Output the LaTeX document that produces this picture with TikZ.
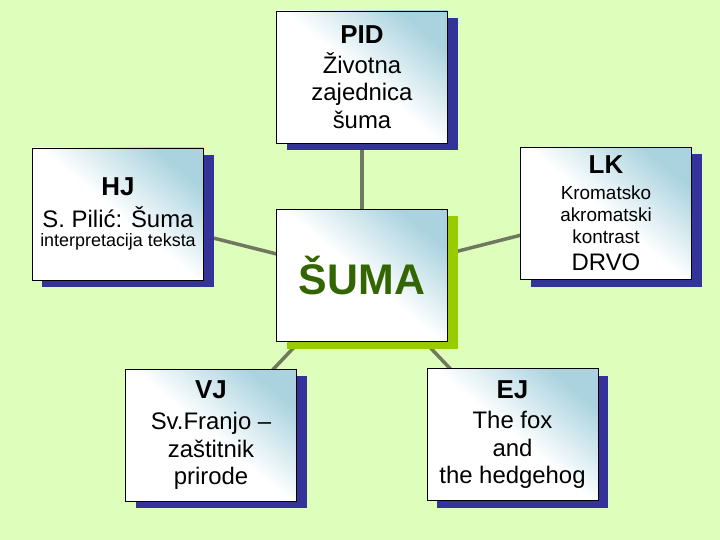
\documentclass[tikz,border=0pt]{standalone}
\usepackage{fontspec}
\setmainfont{Liberation Sans}
\usetikzlibrary{shadows}
\definecolor{bgreen}{RGB}{221,255,187}
\definecolor{boxblue}{RGB}{170,211,223}
\definecolor{shblue}{RGB}{51,51,153}
\definecolor{shgreen}{RGB}{153,204,0}
\definecolor{sumagreen}{RGB}{51,102,0}
\definecolor{linegray}{RGB}{112,120,96}
\pgfdeclarelayer{back}
\pgfsetlayers{back,main}
\newcommand{\hd}[1]{{\fontsize{26}{28}\selectfont\bfseries #1}}
\newcommand{\sm}[1]{{\fontsize{19}{22}\selectfont #1}}
\begin{document}
\begin{tikzpicture}[x=1bp,y=-1bp,
  box/.style={draw,line width=.8bp,top color=boxblue,bottom color=white,middle color=white,shading angle=-40,
    minimum width=171bp,minimum height=132bp,inner sep=0pt,align=center,
    font=\fontsize{24}{27.5}\selectfont,
    copy shadow={fill=#1,draw=none,shadow xshift=10bp,shadow yshift=-7bp}},
  box/.default=shblue,
  link/.style={draw=linegray,line width=3.5bp}]
  \begin{pgfonlayer}{back}
    \fill[bgreen] (0,0) rectangle (720,540);
  \end{pgfonlayer}
  \useasboundingbox (0,0) rectangle (720,540);
  % boxes
  \node[box] (pid) at (362,77) {\hd{PID}\\[2.5bp]Životna\\zajednica\\šuma};
  \node[box] (hj) at (118,214) {\hd{HJ}\\[4.5bp]S. Pilić: Šuma\\[-8.5bp]{\fontsize{18}{20}\selectfont interpretacija teksta}};
  \node[box=shgreen,text=sumagreen] (suma) at (362,275.5) {\fontsize{43}{48}\selectfont\bfseries ŠUMA};
  \node[box] (lk) at (606,213.5) {\hd{LK}\\[-1.5bp]\sm{Kromatsko}\\[-5.5bp]\sm{akromatski}\\[-5.5bp]\sm{kontrast}\\DRVO};
  \node[box] (vj) at (211,435) {\hd{VJ}\\[4.5bp]Sv.Franjo --\\zaštitnik\\prirode};
  \node[box] (ej) at (512.5,434.5) {\hd{EJ}\\[3bp]The fox\\and\\the hedgehog};
  % connectors
  \begin{pgfonlayer}{back}
    \foreach \n in {pid,hj,lk,vj,ej}
      \draw[link] (suma.center) -- (\n.center);
  \end{pgfonlayer}
\end{tikzpicture}
\end{document}
